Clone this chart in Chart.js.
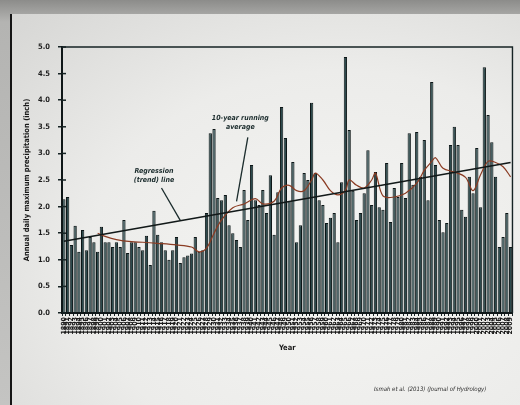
<!DOCTYPE html>
<html>
<head>
<meta charset="utf-8">
<title>Annual daily maximum precipitation</title>
<script src="https://cdn.jsdelivr.net/npm/chart.js@4.4.0/dist/chart.umd.min.js"></script>
<style>
  html, body { margin: 0; padding: 0; }
  body {
    width: 520px; height: 405px; overflow: hidden; position: relative;
    background: linear-gradient(#8c8c8a, #b4b4b2 22px, #c4c4c2);
  }
  .sheet {
    position: absolute; left: 10px; top: 14px; right: 0; bottom: 0;
    background: radial-gradient(ellipse at 65% 65%, #f5f5f3 0%, #ececea 55%, #d6d6d4 100%);
    border-left: 2px solid #151515;
  }
  .wrap { position: absolute; left: 0; top: 0; width: 520px; height: 405px; }
</style>
</head>
<body>
<div class="sheet"></div>
<div class="wrap"><canvas id="chart"></canvas></div>
<script>
// annual maximum daily rainfall, one bar per year
const firstYear = 1890;
const maxPrecip = [
  2.14, 2.18, 1.28, 1.64, 1.15, 1.56, 1.18, 1.43, 1.33, 1.15,
  1.62, 1.33, 1.33, 1.24, 1.33, 1.24, 1.75, 1.13, 1.33, 1.33,
  1.24, 1.18, 1.45, 0.90, 1.92, 1.47, 1.33, 1.18, 1.00, 1.18,
  1.43, 0.94, 1.05, 1.08, 1.12, 1.43, 1.15, 1.18, 1.88, 3.38,
  3.46, 2.16, 2.12, 2.22, 1.65, 1.50, 1.37, 1.24, 2.31, 1.75,
  2.78, 2.12, 2.03, 2.31, 1.88, 2.59, 1.47, 2.27, 3.87, 3.29,
  2.10, 2.84, 1.33, 1.65, 2.63, 2.50, 3.95, 2.63, 2.12, 2.03,
  1.69, 1.79, 1.88, 1.33, 2.46, 4.81, 3.44, 2.30, 1.75, 1.88,
  2.25, 3.06, 2.03, 2.65, 1.99, 1.94, 2.82, 1.71, 2.35, 2.18,
  2.82, 2.16, 3.38, 2.41, 3.40, 2.56, 3.25, 2.12, 4.34, 2.78,
  1.75, 1.52, 1.69, 3.16, 3.50, 3.16, 1.94, 1.81, 2.56, 2.25,
  3.10, 1.99, 4.62, 3.72, 3.21, 2.56, 1.24, 1.43, 1.88, 1.24
];
const years = maxPrecip.map((_, i) => String(firstYear + i));

// 10-year running average, read at the turning points of the curve
const avgYears = [
  1899, 1901, 1904, 1908, 1911, 1915, 1920, 1924, 1926, 1928,
  1930, 1932, 1935, 1938, 1941, 1943, 1946, 1948, 1950, 1952,
  1954, 1956, 1957, 1959, 1961, 1963, 1965, 1966, 1968, 1970,
  1972, 1973, 1975, 1978, 1981, 1984, 1986, 1988, 1989, 1991,
  1994, 1997, 1999, 2001, 2003, 2005, 2007, 2009
];
const avgValues = [
  1.50, 1.44, 1.38, 1.34, 1.33, 1.31, 1.28, 1.24, 1.15, 1.22,
  1.50, 1.75, 1.98, 2.05, 2.15, 2.05, 2.10, 2.35, 2.40, 2.30,
  2.30, 2.50, 2.63, 2.50, 2.30, 2.22, 2.30, 2.50, 2.40, 2.35,
  2.50, 2.63, 2.20, 2.18, 2.25, 2.44, 2.68, 2.85, 2.92, 2.72,
  2.65, 2.55, 2.30, 2.60, 2.85, 2.83, 2.75, 2.56
];

// linear trend, start and end of the record
const trendYears = [1890, 2009];
const trendValues = [1.35, 2.83];

const yTicks = [0, 0.5, 1, 1.5, 2, 2.5, 3, 3.5, 4, 4.5, 5];

const inkColor = '#1a2b2c';
const labelFont = '"Liberation Sans Narrow", "DejaVu Sans Condensed", sans-serif';

// callouts placed in data units: [year, value]
const callouts = [
  { lines: ['Regression', '(trend) line'], at: [1914, 2.66], from: [1916, 2.35], to: [1921, 1.74] },
  { lines: ['10-year running', 'average'], at: [1937, 3.66], from: [1939, 3.30], to: [1936, 2.10] }
];

// box round the plot, plus the inner half of each y tick
const framePlugin = {
  id: 'frame',
  afterDatasetsDraw(chart) {
    const { ctx, chartArea: a, scales } = chart;
    ctx.save();
    ctx.strokeStyle = '#162324';
    ctx.lineWidth = 1.4;
    ctx.beginPath();
    ctx.moveTo(a.left, a.top);
    ctx.lineTo(a.right, a.top);
    ctx.lineTo(a.right, a.bottom);
    ctx.stroke();
    ctx.lineWidth = 1.5;
    scales.y.ticks.forEach((t, i) => {
      const y = scales.y.getPixelForTick(i);
      ctx.beginPath();
      ctx.moveTo(a.left, y);
      ctx.lineTo(a.left + 4, y);
      ctx.stroke();
    });
    ctx.restore();
  }
};

const calloutPlugin = {
  id: 'callouts',
  afterDraw(chart) {
    const { ctx, scales: { x, y } } = chart;
    const px = (yr, v) => [x.getPixelForValue(years.indexOf(String(yr))), y.getPixelForValue(v)];
    ctx.save();
    ctx.fillStyle = inkColor;
    ctx.strokeStyle = inkColor;
    ctx.lineWidth = 1.3;
    ctx.font = 'italic bold 7px ' + labelFont;
    ctx.textAlign = 'center';
    ctx.textBaseline = 'middle';
    callouts.forEach(c => {
      const [tx, ty] = px(c.at[0], c.at[1]);
      c.lines.forEach((s, i) => ctx.fillText(s, tx, ty + i * 9));
      const [x0, y0] = px(c.from[0], c.from[1]);
      const [x1, y1] = px(c.to[0], c.to[1]);
      ctx.beginPath();
      ctx.moveTo(x0, y0);
      ctx.lineTo(x1, y1);
      ctx.stroke();
    });
    // source note
    ctx.font = 'italic 6px ' + labelFont;
    ctx.fillStyle = '#2a2a2a';
    ctx.textAlign = 'left';
    ctx.fillText('Ismah et al. (2013) (Journal of Hydrology)', 374, 389);
    ctx.restore();
  }
};

new Chart(document.getElementById('chart'), {
  data: {
    labels: years,
    datasets: [
      {
        type: 'line',
        label: '10-year running average',
        data: avgYears.map((yr, i) => ({ x: String(yr), y: avgValues[i] })),
        borderColor: '#8a3b22',
        borderWidth: 1.2,
        pointRadius: 0,
        tension: 0.35,
        order: 1
      },
      {
        type: 'line',
        label: 'Regression (trend) line',
        data: trendYears.map((yr, i) => ({ x: String(yr), y: trendValues[i] })),
        borderColor: '#111818',
        borderWidth: 1.6,
        pointRadius: 0,
        order: 0
      },
      {
        type: 'bar',
        label: 'Annual daily maximum precipitation',
        data: maxPrecip,
        backgroundColor: '#2d4a4d',
        borderColor: '#0c1516',
        borderWidth: { left: 1, right: 1, top: 1, bottom: 0 },
        barPercentage: 1.0,
        categoryPercentage: 0.88,
        order: 2
      }
    ]
  },
  options: {
    responsive: true,
    maintainAspectRatio: false,
    animation: false,
    layout: { padding: { left: 0, top: 47, right: 3, bottom: 0 } },
    plugins: {
      legend: { display: false },
      tooltip: { enabled: false }
    },
    scales: {
      x: {
        type: 'category',
        offset: true,
        afterFit(scale) { scale.height = 92; },
        grid: { display: true, drawOnChartArea: false, tickLength: 3, color: '#1a2526', lineWidth: 1 },
        border: { display: true, color: '#0f1718', width: 2 },
        ticks: {
          autoSkip: false,
          minRotation: 90,
          maxRotation: 90,
          padding: 1,
          color: '#1c1c1c',
          font: { family: labelFont, size: 7, weight: 'bold' }
        },
        title: {
          display: true,
          text: 'Year',
          color: '#1a1a1a',
          font: { family: labelFont, size: 7.5, weight: 'bold' },
          padding: { bottom: 52 }
        }
      },
      y: {
        min: 0,
        max: 5,
        afterFit(scale) { scale.width = 62; },
        afterBuildTicks(scale) { scale.ticks = yTicks.map(v => ({ value: v })); },
        grid: { display: true, drawOnChartArea: false, tickLength: 4, color: '#162324', lineWidth: 1.5 },
        border: { display: true, color: '#0f1718', width: 2 },
        ticks: {
          padding: 8,
          color: '#1e1e1e',
          font: { family: labelFont, size: 7.5, weight: 'bold' },
          callback: v => v.toFixed(1)
        },
        title: {
          display: true,
          text: 'Annual daily maximum precipitation (inch)',
          color: '#1a1a1a',
          font: { family: labelFont, size: 7.5, weight: 'bold' },
          padding: { top: 23 }
        }
      }
    }
  },
  plugins: [framePlugin, calloutPlugin]
});
</script>
</body>
</html>
